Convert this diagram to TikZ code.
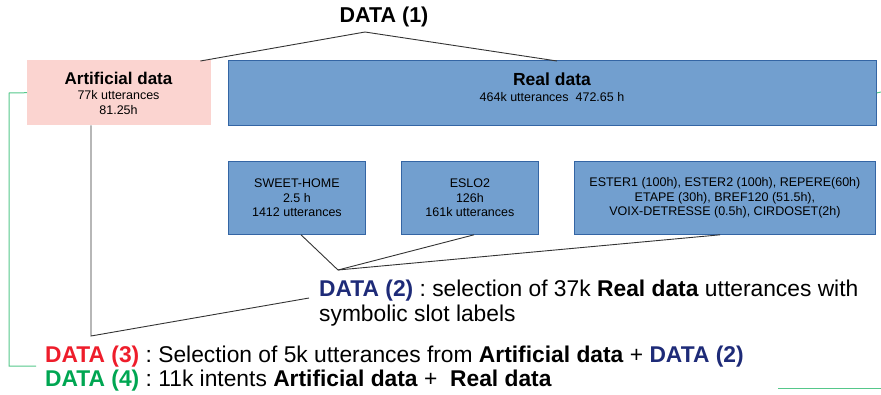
\documentclass[tikz,border=0pt]{standalone}
\usepackage{fontspec}
\setmainfont{Liberation Sans}
\usetikzlibrary{calc}
\frenchspacing
\definecolor{boxblue}{HTML}{729FCF}
\definecolor{boxborder}{HTML}{3465A4}
\definecolor{artpink}{HTML}{FBD4D0}
\definecolor{linegray}{HTML}{333333}
\definecolor{linkgreen}{HTML}{55C78A}
\definecolor{dred}{HTML}{EE1D2B}
\definecolor{dgreen}{HTML}{00A652}
\definecolor{dnavy}{HTML}{1E2B78}
\tikzset{
  bluebox/.style={draw=boxborder, fill=boxblue, line width=0.8pt, inner sep=0pt, anchor=north west},
  pinkbox/.style={fill=artpink, inner sep=0pt, anchor=north west},
  smalltext/.style={align=center, font=\fontsize{12.5}{14.5}\selectfont, inner sep=0pt},
  conn/.style={draw=linegray, line width=0.9pt},
  greenconn/.style={draw=linkgreen, line width=1pt},
  bigtext/.style={font=\fontsize{22.8}{25}\selectfont, inner sep=0pt, anchor=base west, align=left}
}
\begin{document}
\begin{tikzpicture}[x=1pt,y=-1pt]
\useasboundingbox (0,0) rectangle (881,394);
% title
\node[font=\fontsize{21.5}{24}\selectfont\bfseries, inner sep=0pt, anchor=base] (d1) at (384,22) {DATA (1)};
\coordinate (apex1) at (365,32);
% top boxes
\node[pinkbox, minimum width=184pt, minimum height=65pt] (art) at (27,60) {};
\node[smalltext] (arttxt) at (118.5,93) {{\fontsize{17}{17}\selectfont\bfseries Artificial data}\\[1pt]77k utterances\\81.25h};
\node[bluebox, minimum width=648pt, minimum height=65pt] (real) at (228,60) {};
\node[smalltext] (realtxt) at (552,87.5) {{\fontsize{17.5}{17}\selectfont\bfseries Real data}\\[1.5pt]464k utterances\ \ 472.65 h};
% small boxes
\node[bluebox, minimum width=137pt, minimum height=73pt] (sweet) at (228,161) {};
\node[smalltext] (sweettxt) at (sweet.center) {SWEET-HOME\\2.5 h\\1412 utterances};
\node[bluebox, minimum width=137pt, minimum height=73pt] (eslo) at (401,161) {};
\node[smalltext] (eslotxt) at (eslo.center) {ESLO2\\126h\\161k utterances};
\node[bluebox, minimum width=301pt, minimum height=73pt] (ester) at (574,161) {};
\node[smalltext] (estertxt) at (ester.center) {ESTER1 (100h), ESTER2 (100h), REPERE(60h)\\ETAPE (30h), BREF120 (51.5h),\\VOIX-DETRESSE (0.5h), CIRDOSET(2h)};
% DATA(1) connectors
\draw[conn] ($(art.north east)+(-11,1)$) -- (apex1) -- ($(real.north west)+(329,1)$);
% DATA(2)
\coordinate (apex2) at (338,270);
\draw[conn] ($(sweet.south west)+(73,0)$) -- (apex2);
\draw[conn] ($(eslo.south west)+(73,0)$) -- (apex2);
\draw[conn] ($(ester.south west)+(146,0)$) -- (apex2);
\node[bigtext] (d2) at (319,321) {\textcolor{dnavy}{\bfseries DATA (2)} : selection of 37k \textbf{Real data} utterances with\\symbolic slot labels};
% DATA(3) link
\coordinate (bend3) at (91,336);
\coordinate (d2left) at (309,298);
\draw[conn] ($(art.south west)+(64,0)$) -- (bend3) -- (d2left);
\node[bigtext] (d3) at (45,362) {\textcolor{dred}{\bfseries DATA (3)} : Selection of 5k utterances from \textbf{Artificial data} + \textcolor{dnavy}{\bfseries DATA (2)}};
\node[bigtext] (d4) at (45,386) {\textcolor{dgreen}{\bfseries DATA (4)} : 11k intents \textbf{Artificial data} +\ \ \textbf{Real data}};
% green connector
\coordinate (g1) at (9,93);
\coordinate (g2) at (9,366);
\coordinate (g3) at (36,366);
\draw[greenconn] (art.west) -- (g1) -- (g2) -- (g3);
\coordinate (gr) at (881,92);
\draw[greenconn] (real.east) -- (gr);
\coordinate (gb1) at (778,388);
\coordinate (gb2) at (881,388);
\draw[greenconn] (gb1) -- (gb2);
\end{tikzpicture}
\end{document}
